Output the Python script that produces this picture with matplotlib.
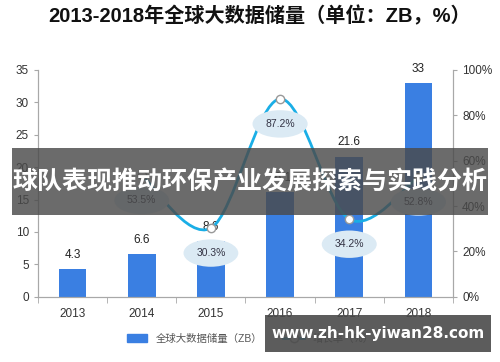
import numpy as np
import matplotlib.pyplot as plt
from matplotlib.path import Path
from matplotlib.patches import PathPatch, Rectangle
from matplotlib.lines import Line2D

plt.rcParams['font.family'] = ['Liberation Sans', 'Noto Sans CJK SC', 'DejaVu Sans']

years = ['2013', '2014', '2015', '2016', '2017', '2018']
storage = [4.3, 6.6, 8.6, 16.1, 21.6, 33]
growth_years = ['2014', '2015', '2016', '2017', '2018']
growth = [53.5, 30.3, 87.2, 34.2, 52.8]

title = '2013-2018年全球大数据储量（单位：ZB，%）'
bar_name = '全球大数据储量（ZB）'
line_name = '增长率（%）'
banner = '球队表现推动环保产业发展探索与实践分析'
watermark = 'www.zh-hk-yiwan28.com'

bar_color = '#3a7fe2'
line_color = '#1aaee6'
axis_color = '#a8a8a8'


def smooth_path(xs, ys):
    # catmull-rom -> bezier, only for drawing the smoothed line
    verts = [(xs[0], ys[0])]
    codes = [Path.MOVETO]
    n = len(xs)
    for i in range(n - 1):
        x0, y0 = (xs[i - 1], ys[i - 1]) if i > 0 else (xs[i], ys[i])
        x1, y1 = xs[i], ys[i]
        x2, y2 = xs[i + 1], ys[i + 1]
        x3, y3 = (xs[i + 2], ys[i + 2]) if i + 2 < n else (x2, y2)
        t = 1 / 6
        verts += [(x1 + (x2 - x0) * t, y1 + (y2 - y0) * t),
                  (x2 - (x3 - x1) * t, y2 - (y3 - y1) * t),
                  (x2, y2)]
        codes += [Path.CURVE4] * 3
    return Path(verts, codes)


fig = plt.figure(figsize=(5, 3.62), dpi=100)
ax = fig.add_axes([0.076, 0.18, 0.83, 0.627])
ax2 = ax.twinx()

x = np.arange(len(years))
ax.bar(x, storage, width=0.4, color=bar_color, zorder=2)
for xi, v in zip(x, storage):
    ax.annotate(f'{v:g}', (xi, v), xytext=(0, 6), textcoords='offset points',
                ha='center', va='bottom', fontsize=8.5, color='#222222')

ax.set_xlim(-0.5, len(years) - 0.5)
ax.set_ylim(0, 35)
ax.set_yticks(np.arange(0, 36, 5))
ax.set_xticks(x)
ax.set_xticklabels(years, fontsize=8.5, color='#333333')
ax.set_xticks(np.arange(-0.5, len(years), 1), minor=True)
ax.tick_params(axis='x', which='major', length=0, pad=8)
ax.tick_params(axis='x', which='minor', length=4, color=axis_color)
ax.tick_params(axis='y', labelsize=8.5, labelcolor='#333333', length=3, color=axis_color)

gx = np.array([years.index(y) for y in growth_years], dtype=float)
gy = np.array(growth)
ax2.set_ylim(0, 100)
ax2.set_yticks(np.arange(0, 101, 20))
ax2.set_yticklabels([f'{v}%' for v in range(0, 101, 20)])
ax2.tick_params(axis='y', labelsize=8.5, labelcolor='#333333', length=3, color=axis_color)
ax2.add_patch(PathPatch(smooth_path(gx, gy), facecolor='none', edgecolor=line_color,
                        lw=2, zorder=3))
ax2.plot(gx, gy, 'o', ms=6, mfc='white', mec='#999999', mew=1, zorder=4)
for xi, v in zip(gx, gy):
    ax2.annotate(f'{v}%', (xi, v), xytext=(0, -18), textcoords='offset points',
                 ha='center', va='center', fontsize=7.5, color='#333344',
                 bbox=dict(boxstyle='ellipse,pad=0.45', fc='#dbeaf4', ec='none'),
                 zorder=5)

for a in (ax, ax2):
    a.spines['top'].set_visible(False)
    for s in ('left', 'right', 'bottom'):
        a.spines[s].set_color(axis_color)

fig.text(0.52, 0.956, title, ha='center', va='center', fontsize=14.5,
         fontweight='bold', color='#111111', family=['Liberation Sans', 'Noto Sans CJK SC'])

handles = [Rectangle((0, 0), 1, 1, color=bar_color),
           Line2D([0], [0], color=line_color, lw=2, marker='o', mfc='white', mec='#999999')]
fig.legend(handles, [bar_name, line_name], loc='center', bbox_to_anchor=(0.5, 0.065),
           ncol=2, frameon=False, fontsize=7.5, labelcolor='#555555',
           handlelength=2, columnspacing=2)

# overlays
fig.patches.append(Rectangle((0.024, 0.406), 0.952, 0.185, transform=fig.transFigure,
                             facecolor='#4a4a4a', alpha=0.82, zorder=10))
fig.text(0.5, 0.497, banner, ha='center', va='center', fontsize=18, color='white',
         fontweight='bold', family=['Noto Sans CJK SC'], zorder=11)
fig.patches.append(Rectangle((0.53, 0.028), 0.452, 0.103, transform=fig.transFigure,
                             facecolor='#4a4a4a', alpha=0.9, zorder=10))
fig.text(0.756, 0.08, watermark, ha='center', va='center', fontsize=11, color='white',
         fontweight='bold', family=['DejaVu Sans'], zorder=11)

fig.savefig('out.png', dpi=100)
